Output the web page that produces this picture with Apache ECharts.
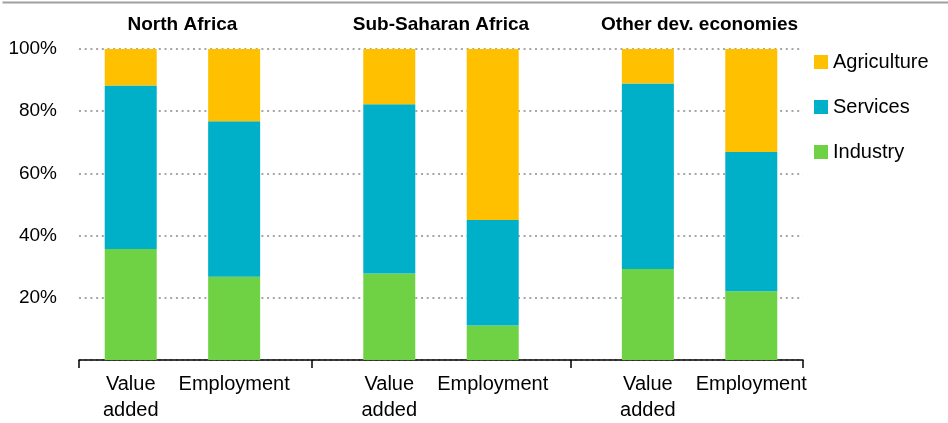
<!DOCTYPE html>
<html>
<head>
<meta charset="utf-8">
<script src="https://cdn.jsdelivr.net/npm/echarts@6/dist/echarts.min.js"></script>
<style>
html,body{margin:0;padding:0;background:#fff;}
#chart{width:948px;height:423px;}
</style>
</head>
<body>
<div id="chart"></div>
<script>
// ---- data ----
const groups = ['North Africa', 'Sub-Saharan Africa', 'Other dev. economies'];
const measures = ['Value\nadded', 'Employment'];
// slot indices on a 29-point category scale for bars, group titles, separators
const slotCount = 29;
const barSlots = [2, 6, 12, 16, 22, 26];
const groupSlots = [4, 14, 24];
const separatorSlots = [0, 9, 19, 28];
const industry    = [35.7, 26.8, 27.8, 11.1, 29.3, 22.1];
const services    = [52.6, 50.0, 54.4, 33.9, 59.6, 44.8];
const agriculture = [11.7, 23.2, 17.8, 55.0, 11.1, 33.1];

const FONT = '"Liberation Sans", Arial, sans-serif';
const chart = echarts.init(document.getElementById('chart'));

const slots = Array.from({ length: slotCount }, (_, i) => String(i));
function spread(vals) {
  const out = slots.map(() => '-');
  barSlots.forEach((s, i) => { out[s] = vals[i]; });
  return out;
}
function labelFor(v) {
  const i = barSlots.indexOf(Number(v));
  return i < 0 ? '' : measures[i % 2];
}
function groupFor(v) {
  const i = groupSlots.indexOf(Number(v));
  return i < 0 ? '' : groups[i];
}

chart.setOption({
  animation: false,
  textStyle: { fontFamily: FONT },
  graphic: [{
    type: 'line', left: 0, top: 0,
    shape: { x1: 0, y1: 0.5, x2: 948, y2: 0.5 },
    style: { stroke: '#a0a0a0', lineWidth: 2 }
  }],
  grid: { left: 79, right: 145, top: 49, bottom: 60, containLabel: false },
  legend: {
    data: ['Agriculture', 'Services', 'Industry'],
    orient: 'vertical', left: 809, top: 47,
    itemWidth: 14, itemHeight: 14, itemGap: 25, icon: 'rect',
    textStyle: { fontSize: 20, color: '#000', fontFamily: FONT, lineHeight: 20 }
  },
  xAxis: [{
    type: 'category', data: slots, boundaryGap: false,
    splitLine: { show: false },
    axisLine: { show: true, lineStyle: { color: '#000', width: 1.5 } },
    axisTick: { show: true, interval: (i) => separatorSlots.indexOf(i) >= 0, length: 8, inside: false,
                lineStyle: { color: '#000', width: 1.5 } },
    axisLabel: { interval: (i) => barSlots.indexOf(i) >= 0, formatter: labelFor, fontSize: 20, color: '#000',
                 lineHeight: 26, margin: 11, fontFamily: FONT }
  }, {
    type: 'category', data: slots, boundaryGap: false, position: 'top',
    splitLine: { show: false },
    axisLine: { show: false }, axisTick: { show: false },
    axisLabel: { interval: (i) => groupSlots.indexOf(i) >= 0, formatter: groupFor, fontSize: 19, fontWeight: 'bold',
                 color: '#000', margin: 15, fontFamily: FONT }
  }],
  yAxis: {
    type: 'value', min: 0, max: 100, interval: 20,
    axisLine: { show: false }, axisTick: { show: false },
    axisLabel: { formatter: v => (v === 0 ? '' : v + '%'), fontSize: 19, color: '#000', margin: 22, fontFamily: FONT },
    splitLine: { show: true, lineStyle: { color: '#a6a6a6', width: 2, type: [2, 3.7] } }
  },
  series: [
    { name: 'Industry', type: 'bar', stack: 't', barWidth: 52, data: spread(industry),
      itemStyle: { color: '#6fd244' } },
    { name: 'Services', type: 'bar', stack: 't', barWidth: 52, data: spread(services),
      itemStyle: { color: '#00afc8' } },
    { name: 'Agriculture', type: 'bar', stack: 't', barWidth: 52, data: spread(agriculture),
      itemStyle: { color: '#ffc000' } }
  ]
});
</script>
</body>
</html>
